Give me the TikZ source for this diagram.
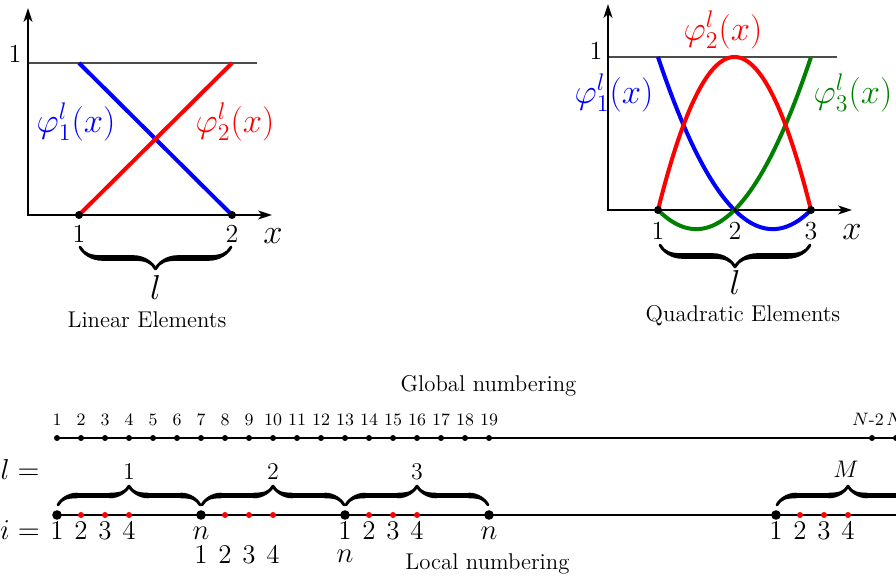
\documentclass[tikz,border=0pt]{standalone}
\usetikzlibrary{arrows.meta,decorations.pathreplacing,calligraphy}
\definecolor{dgreen}{RGB}{0,128,0}
\begin{document}
\begin{tikzpicture}[x=0.5pt,y=-0.5pt,
  axisln/.style={line width=1pt,{Stealth[length=7pt,width=4.5pt,inset=2pt]}-{Stealth[length=7pt,width=4.5pt,inset=2pt]}},
  oneline/.style={line width=0.6pt,black!70},
  curveln/.style={line width=2pt},
  pdot/.style={circle,fill=black,inner sep=0pt,minimum size=4pt},
  gdot/.style={circle,fill=black,inner sep=0pt,minimum size=3pt},
  bdot/.style={circle,fill=black,inner sep=0pt,minimum size=4.8pt},
  rdot/.style={circle,fill=red,inner sep=0pt,minimum size=3pt},
  cbrace/.style={decorate,decoration={calligraphic brace,amplitude=11pt},line width=2.8pt,pen colour={black}},
  sbrace/.style={decorate,decoration={calligraphic brace,amplitude=9.5pt},line width=2.8pt,pen colour={black}},
  ticklab/.style={font=\fontsize{13}{15}\selectfont,anchor=base,inner sep=0pt},
  biglab/.style={font=\fontsize{17.28}{20}\selectfont,inner sep=0pt},
  bigbase/.style={font=\fontsize{17.28}{20}\selectfont,inner sep=0pt,anchor=base},
  captext/.style={font=\fontsize{11.4}{14}\selectfont,anchor=base,inner sep=0pt},
  gnum/.style={font=\fontsize{8.7}{10}\selectfont,anchor=base,inner sep=0pt},
  lnum/.style={font=\fontsize{13.5}{16}\selectfont,anchor=base,inner sep=0pt},
  blab/.style={font=\fontsize{12}{14}\selectfont,anchor=base,inner sep=0pt}]
\useasboundingbox (0,0) rectangle (896,581);
\clip (0,0) rectangle (896,581);

% ---------------- Linear elements ----------------
\coordinate (Lo) at (28,215);
\coordinate (LyT) at (28,8);
\coordinate (LxT) at (272,215);
\coordinate (L1a) at (28,63);
\coordinate (L1b) at (257,63);
\coordinate (L1c) at (79,215);
\coordinate (L2c) at (232,215);
\coordinate (L1t) at (79,63);
\coordinate (L2t) at (232,63);
\draw[oneline] (L1a) -- (L1b);
\draw[axisln] (LyT) -- (Lo) -- (LxT);
\draw[curveln,blue] (L1t) -- (L2c);
\draw[curveln,red] (L1c) -- (L2t);
\node[pdot] (L1) at (L1c) {};
\node[pdot] (L2) at (L2c) {};
\node[ticklab] (Ly1) at (15,63) {1};
\node[ticklab] (Lt1) at (79,243) {1};
\node[ticklab] (Lt2) at (232,243) {2};
\node[bigbase] (Lx) at (273,244) {$x$};
\node[biglab,blue] (Lphi1) at (76,122) {$\varphi_1^l(x)$};
\node[biglab,red] (Lphi2) at (235,122) {$\varphi_2^l(x)$};
\coordinate (Lba) at (231,247);
\coordinate (Lbb) at (80,247);
\draw[cbrace] (Lba) -- (Lbb);
\node[bigbase] (Ll) at (155.5,300) {$l$};
\node[captext] (Lcap) at (147,328) {Linear Elements};

% ---------------- Quadratic elements ----------------
\coordinate (Qo) at (608,210);
\coordinate (QyT) at (608,4);
\coordinate (QxT) at (852,210);
\coordinate (Q1a) at (608,57);
\coordinate (Q1b) at (837,57);
\coordinate (Q1c) at (658,210);
\coordinate (Q2c) at (735,210);
\coordinate (Q3c) at (811,210);
\draw[oneline] (Q1a) -- (Q1b);
\draw[axisln] (QyT) -- (Qo) -- (QxT);
\draw[curveln,blue] plot[domain=0:1,samples=80] ({658+153*\x},{210-153*(2*\x-1)*(\x-1)});
\draw[curveln,dgreen] plot[domain=0:1,samples=80] ({658+153*\x},{210-153*\x*(2*\x-1)});
\draw[curveln,red] plot[domain=0:1,samples=80] ({658+153*\x},{210-153*4*\x*(1-\x)});
\node[pdot] (Q1) at (Q1c) {};
\node[pdot,minimum size=2pt] (Q2) at (Q2c) {};
\node[pdot] (Q3) at (Q3c) {};
\node[ticklab] (Qy1) at (596,60) {1};
\node[ticklab] (Qt1) at (658,240) {1};
\node[ticklab] (Qt2) at (735,240) {2};
\node[ticklab] (Qt3) at (811,240) {3};
\node[bigbase] (Qx) at (852,240) {$x$};
\node[biglab,blue] (Qphi1) at (614,93) {$\varphi_1^l(x)$};
\node[biglab,red] (Qphi2) at (723,30) {$\varphi_2^l(x)$};
\node[biglab,dgreen] (Qphi3) at (853,93) {$\varphi_3^l(x)$};
\coordinate (Qba) at (810,245);
\coordinate (Qbb) at (660,245);
\draw[cbrace] (Qba) -- (Qbb);
\node[bigbase] (Ql) at (735,295) {$l$};
\node[captext] (Qcap) at (743,322) {Quadratic Elements};

% ---------------- Global numbering ----------------
\node[captext] (gtitle) at (488.5,392) {Global numbering};
\coordinate (gEnd) at (940,438);
\foreach \i in {1,...,19} {
  \node[gdot] (g\i) at ({57+24*(\i-1)},438) {};
  \node[gnum] (gl\i) at ({57+24*(\i-1)},426) {\i};
}
\node[gdot] (gN2) at (872,438) {};
\node[gdot] (gN1) at (896,438) {};
\node[gnum] (glN2) at (868,426) {$N$-2};
\node[gnum,anchor=base west] (glN1) at (886,426) {$N$-1};
\draw[line width=1pt] (g1.center) -- (gEnd);

% ---------------- Local numbering ----------------
\coordinate (lEnd) at (940,515);
\draw[line width=1pt] (57,515) coordinate (lStart) -- (lEnd);
\foreach \j/\xx in {a/57,b/201,c/345,d/489,e/776} {
  \node[bdot] (n\j) at (\xx,515) {};
}
\foreach \j/\xx in {a/57,b/201,c/345,e/776} {
  \foreach \k in {1,2,3} {
    \node[rdot] (r\j\k) at ({\xx+24*\k},515) {};
  }
}
\draw[sbrace] (58,505) coordinate (b1a) -- (200,505) coordinate (b1b);
\draw[sbrace] (202,505) coordinate (b2a) -- (344,505) coordinate (b2b);
\draw[sbrace] (346,505) coordinate (b3a) -- (488,505) coordinate (b3b);
\draw[sbrace] (777,505) coordinate (b4a) -- (919,505) coordinate (b4b);
\node[blab] (e1) at (129,480) {1};
\node[blab] (e2) at (273,480) {2};
\node[blab] (e3) at (417,480) {3};
\node[blab] (eM) at (846,478) {$M$};
\node[lnum] (leq) at (20,480) {$l=$};
\node[lnum] (ieq) at (20,540) {$i=$};
% row 1
\foreach \xx/\t in {57/1,81/2,105/3,129/4,345/1,369/2,393/3,417/4,776/1,800/2,824/3,848/4} {
  \node[lnum] at (\xx,540) {\t};
}
\node[lnum] (nb) at (201,540) {$n$};
\node[lnum] (nd) at (489,540) {$n$};
% row 2
\foreach \xx/\t in {201/1,225/2,249/3,273/4} {
  \node[lnum] at (\xx,564) {\t};
}
\node[lnum] (nc) at (345,563) {$n$};
\node[captext] (ltitle) at (487.5,570) {Local numbering};
\end{tikzpicture}
\end{document}
